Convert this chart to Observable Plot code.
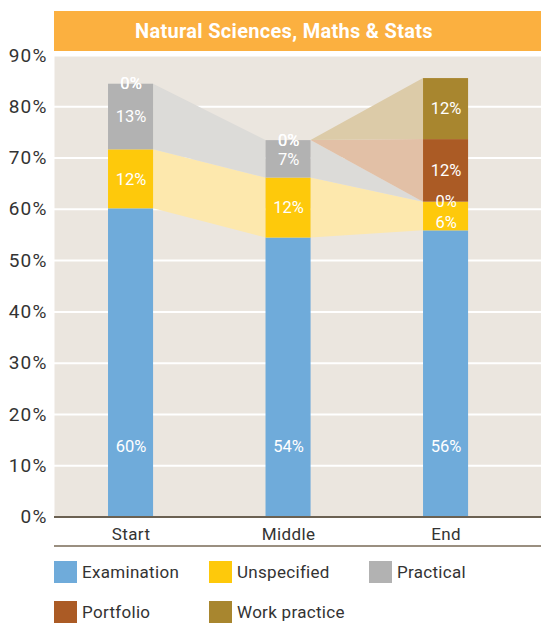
<!DOCTYPE html>
<html>
<head>
<meta charset="utf-8">
<script src="https://cdn.jsdelivr.net/npm/d3@7"></script>
<script src="https://cdn.jsdelivr.net/npm/@observablehq/plot@0.6"></script>
<style>
  body { margin: 0; background: #fff; font-family: Roboto, "Open Sans", sans-serif; }
  #wrap { position: relative; width: 541px; height: 634px; }
  #title { position: absolute; top: 11px; left: 54px; width: 487px; height: 40px; box-sizing: border-box;
           background: #fbb040; color: #fff; font-weight: 700; font-size: 20px; line-height: 40px;
           text-align: center; padding-right: 27px; z-index: 2; letter-spacing: 0.3px; }
  #chart { position: absolute; top: 0; left: 0; }
  #rule { position: absolute; top: 545px; left: 54px; width: 487px; height: 2px; background: #9a8f80; }
  #legend { position: absolute; top: 561px; left: 54px; display: grid;
            grid-template-columns: 155px 160px 160px; row-gap: 18px; }
  .item { display: flex; align-items: center; height: 22px; font-size: 17px; color: #333; letter-spacing: 0.3px; }
  .sw { width: 23px; height: 22px; margin-right: 5px; flex: none; }
  g[aria-label="y-axis tick label"] text { letter-spacing: 1.2px; }
  g[aria-label="x-axis tick label"] text { letter-spacing: 0.4px; }
</style>
</head>
<body>
<div id="wrap">
  <div id="title">Natural Sciences, Maths &amp; Stats</div>
  <div id="chart"></div>
  <div id="rule"></div>
  <div id="legend"></div>
</div>
<script>
const stages = ["Start", "Middle", "End"];
const seriesNames = ["Examination", "Unspecified", "Practical", "Portfolio", "Work practice"];
const examination = [60.1, 54.4, 55.8];
const unspecified = [11.5, 11.7, 5.6];
const practical = [12.8, 7.3, 0];
const portfolio = [0, 0, 12.2];
const workPractice = [0, 0, 11.9];
const yTicks = [0, 10, 20, 30, 40, 50, 60, 70, 80, 90];
const barColors = ["#6fabda", "#fec90b", "#b2b2b2", "#ab5b25", "#a8862f"];
const bandColors = [null, "#fde8ad", "#dcdbd8", "#e2c0a6", "#dccba8"];

const seriesValues = [examination, unspecified, practical, portfolio, workPractice];
const hw = 0.143;

// stacked segments
const segments = [];
stages.forEach((st, i) => {
  let cum = 0;
  seriesNames.forEach((s, k) => {
    const v = seriesValues[k][i];
    segments.push({i, stage: st, series: s, k, v, y1: cum, y2: cum + v});
    cum += v;
  });
});
const seg = (i, k) => segments.find(d => d.i === i && d.k === k);

// connecting bands
const bandMarks = [];
seriesNames.forEach((s, k) => {
  if (!bandColors[k]) return;
  const pts = [];
  for (let i = 0; i < stages.length - 1; i++) {
    const a = seg(i, k), b = seg(i + 1, k);
    pts.push({key: s + i, x: i + hw, y1: a.y1, y2: a.y2});
    pts.push({key: s + i, x: i + 1 - hw, y1: b.y1, y2: b.y2});
  }
  bandMarks.push(Plot.area(pts, {x1: "x", y1: "y1", y2: "y2", z: "key", fill: bandColors[k]}));
});

const examLabelY = 13.7;
const labelSegs = segments.filter(d => !(d.v > 0 && d.v < 6.5));
const smallSegs = segments.filter(d => d.v > 0 && d.v < 6.5);

const chart = Plot.plot({
  width: 541,
  height: 546,
  marginTop: 55,
  marginBottom: 29.5,
  marginLeft: 54,
  marginRight: 0,
  style: {color: "#333", fontFamily: "Roboto, sans-serif", background: "transparent"},
  x: {type: "linear", domain: [-0.486, 2.606]},
  y: {domain: [0, 90]},
  color: {domain: seriesNames, range: barColors},
  marks: [
    Plot.frame({fill: "#ebe6df", stroke: null}),
    Plot.ruleY(yTicks.filter(d => d > 0), {stroke: "#fff", strokeWidth: 2}),
    ...bandMarks,
    Plot.rect(segments.filter(d => d.v > 0), {
      x1: d => d.i - hw, x2: d => d.i + hw, y1: "y1", y2: "y2", fill: "series"
    }),
    Plot.ruleY([0], {stroke: "#6b6152", strokeWidth: 2}),
    Plot.text(labelSegs, {
      x: "i",
      y: d => d.k === 0 ? examLabelY : (d.y1 + d.y2) / 2,
      text: d => Math.round(d.v) + "%",
      fill: "#fff", fontSize: 16.5, fontWeight: 400
    }),
    Plot.text(smallSegs, {
      x: "i",
      y: d => (d.y1 + d.y2) / 2,
      dy: 6,
      text: d => Math.round(d.v) + "%",
      fill: "#fff", fontSize: 16.5, fontWeight: 400
    }),
    Plot.axisY({ticks: yTicks, tickFormat: d => d + "%", tickSize: 0, tickPadding: 7, fontSize: 19, label: null}),
    Plot.axisX({ticks: [0, 1, 2], tickFormat: i => stages[i], tickSize: 0, tickPadding: 10.5, fontSize: 17, label: null})
  ]
});
document.getElementById("chart").appendChild(chart);

const legend = document.getElementById("legend");
seriesNames.forEach((s, k) => {
  const it = document.createElement("div");
  it.className = "item";
  it.innerHTML = `<span class="sw" style="background:${barColors[k]}"></span><span>${s}</span>`;
  legend.appendChild(it);
});
</script>
</body>
</html>
